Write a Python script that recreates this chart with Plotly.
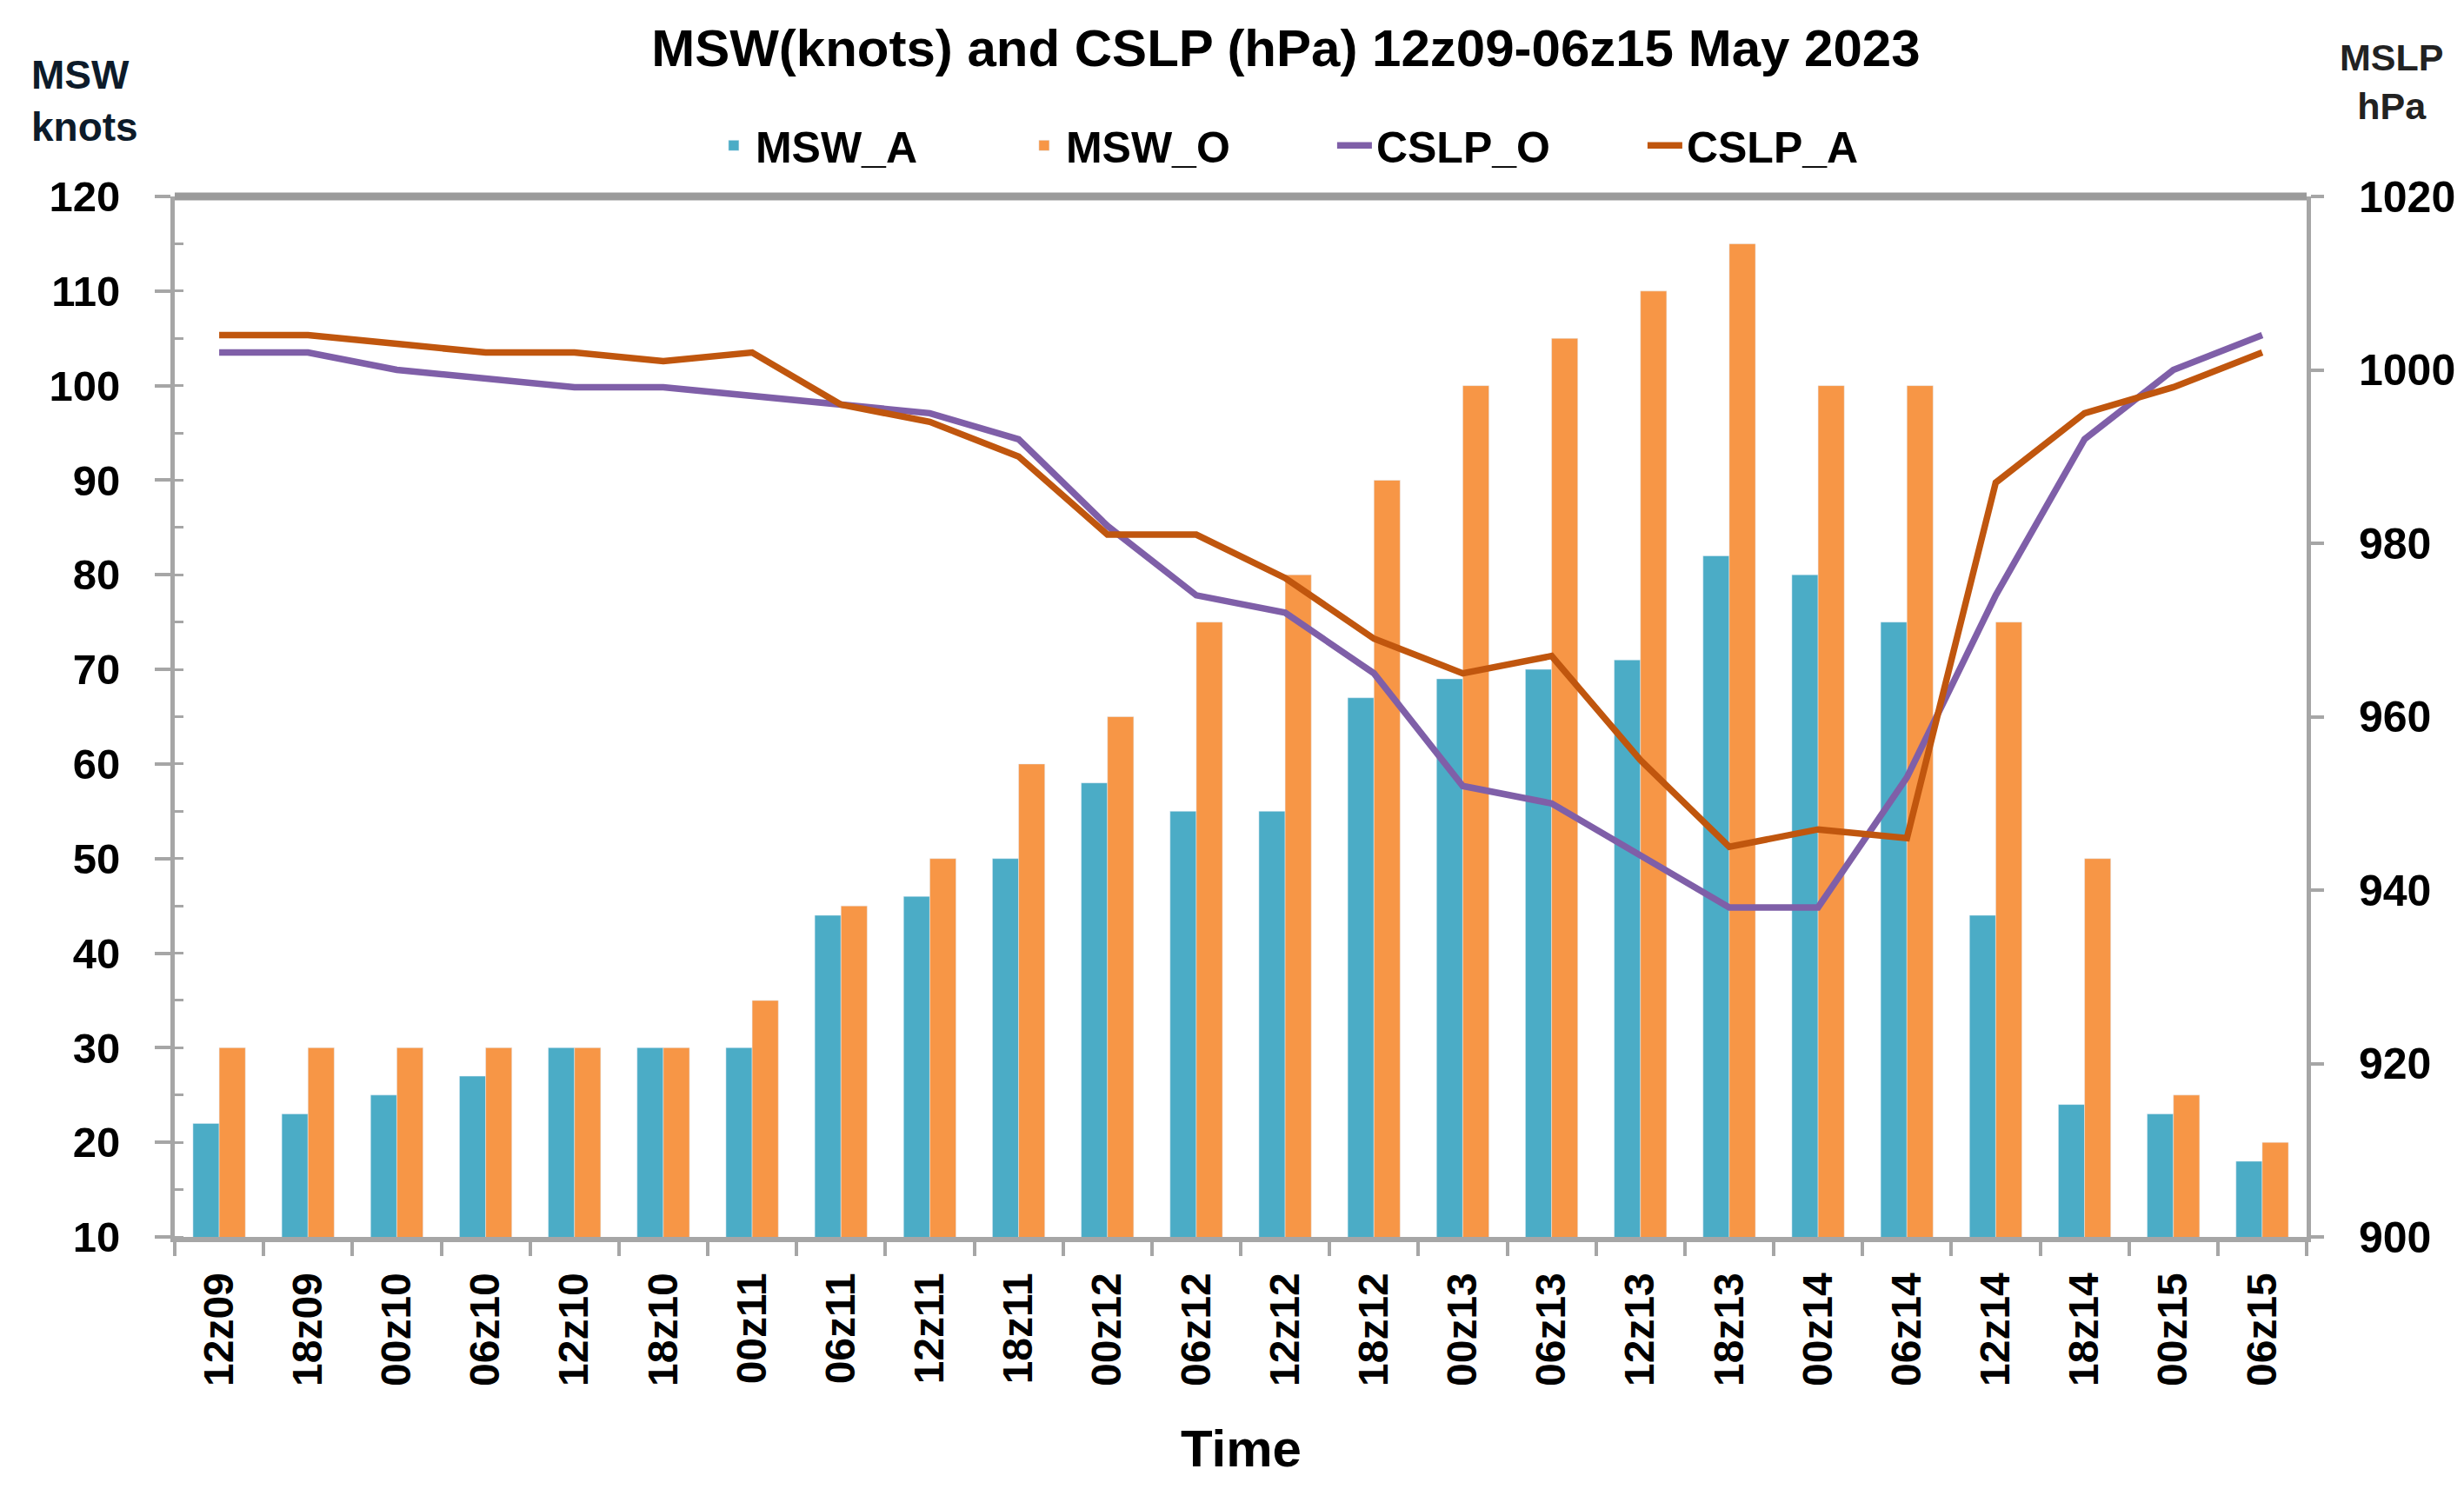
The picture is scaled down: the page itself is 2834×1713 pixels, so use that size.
import plotly.graph_objects as go

categories = ["12z09", "18z09", "00z10", "06z10", "12z10", "18z10", "00z11", "06z11",
              "12z11", "18z11", "00z12", "06z12", "12z12", "18z12", "00z13", "06z13",
              "12z13", "18z13", "00z14", "06z14", "12z14", "18z14", "00z15", "06z15"]
msw_a = [22, 23, 25, 27, 30, 30, 30, 44, 46, 50, 58, 55, 55, 67, 69, 70, 71, 82, 80, 75, 44, 24, 23, 18]
msw_o = [30, 30, 30, 30, 30, 30, 35, 45, 50, 60, 65, 75, 80, 90, 100, 105, 110, 115, 100, 100, 75, 50, 25, 20]
cslp_o = [1002, 1002, 1000, 999, 998, 998, 997, 996, 995, 992, 982, 974, 972, 965, 952, 950,
          944, 938, 938, 953, 974, 992, 1000, 1004]
cslp_a = [1004, 1004, 1003, 1002, 1002, 1001, 1002, 996, 994, 990, 981, 981, 976, 969, 965, 967,
          955, 945, 947, 946, 987, 995, 998, 1002]

FONT = "Liberation Sans, Arial, sans-serif"
AXIS_GRAY = "#a6a6a6"


def bfont(size, color="black"):
    return dict(family=FONT, size=size, color=color, weight="bold")


fig = go.Figure()
fig.add_trace(go.Bar(x=categories, y=msw_a, name="MSW_A", marker_color="#4BACC6", yaxis="y"))
fig.add_trace(go.Bar(x=categories, y=msw_o, name="MSW_O", marker_color="#F79646", yaxis="y"))
fig.add_trace(go.Scatter(x=categories, y=cslp_o, name="CSLP_O", mode="lines",
                         line=dict(color="#7F5FA8", width=7.5), yaxis="y2"))
fig.add_trace(go.Scatter(x=categories, y=cslp_a, name="CSLP_A", mode="lines",
                         line=dict(color="#C0560E", width=7.5), yaxis="y2"))

fig.update_layout(
    width=2834, height=1713,
    margin=dict(l=193, r=189, t=218, b=298),
    paper_bgcolor="white", plot_bgcolor="white",
    font=bfont(48),
    barmode="group", bargap=0.41, bargroupgap=0,
    title=dict(text="MSW(knots) and CSLP (hPa) 12z09-06z15 May 2023",
               x=0.519, xref="container", xanchor="center",
               y=1 - 47 / 1713, yref="container", yanchor="middle",
               font=bfont(60)),
    legend=dict(orientation="h", x=0.252, xanchor="left", y=1.049, yanchor="middle",
                font=bfont(50),
                entrywidth=302, entrywidthmode="pixels", itemwidth=40,
                bgcolor="rgba(0,0,0,0)"),
    xaxis=dict(type="category", showgrid=False, showline=True, linecolor=AXIS_GRAY, linewidth=6,
               ticks="outside", ticklen=16, tickwidth=4, tickcolor=AXIS_GRAY, tickson="boundaries",
               tickangle=-90, ticklabelstandoff=16,
               tickfont=bfont(48), zeroline=False),
    yaxis=dict(range=[10, 120], dtick=10, tick0=10, showgrid=False, showline=True,
               linecolor=AXIS_GRAY, linewidth=5, ticks="outside", ticklen=18, tickwidth=4,
               tickcolor=AXIS_GRAY, ticklabelstandoff=30, zeroline=False,
               minor=dict(dtick=5, ticks="inside", ticklen=10, tickwidth=3, tickcolor=AXIS_GRAY),
               tickfont=bfont(49)),
    yaxis2=dict(range=[900, 1020], dtick=20, tick0=900, overlaying="y", side="right",
                showgrid=False, showline=True, linecolor=AXIS_GRAY, linewidth=5,
                ticks="outside", ticklen=15, tickwidth=4, tickcolor=AXIS_GRAY,
                ticklabelstandoff=30, zeroline=False,
                tickfont=bfont(50)),
)

# top frame line of the plot area
fig.add_shape(type="line", xref="paper", yref="paper", x0=0, x1=1, y0=1, y1=1,
              line=dict(color="#9a9a9a", width=9), layer="above")

fig.add_annotation(text="MSW<br>knots", xref="paper", yref="paper",
                   x=-0.068, xanchor="left", y=1.092, yanchor="middle", showarrow=False,
                   align="left", font=bfont(46, "#0d1b2a"))
fig.add_annotation(text="MSLP<br>hPa", xref="paper", yref="paper",
                   x=1.0396, xanchor="center", y=1.11, yanchor="middle", showarrow=False,
                   align="center", font=bfont(43, "#222222"))
fig.add_annotation(text="Time", xref="paper", yref="paper",
                   x=0.5, xanchor="center", y=(1415 - 1658) / 1197, yanchor="middle",
                   showarrow=False, font=bfont(60))

fig.write_html("out.html")
